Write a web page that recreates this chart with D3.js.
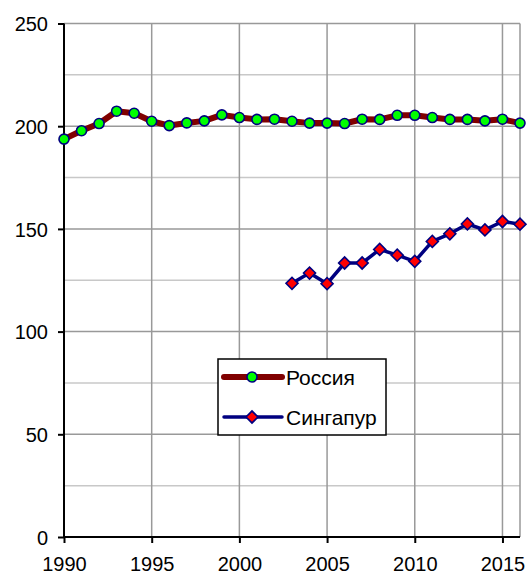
<!DOCTYPE html>
<html>
<head>
<meta charset="utf-8">
<script src="https://cdn.jsdelivr.net/npm/d3@7"></script>
<style>
  body { margin: 0; background: #fff; }
  text { font-family: Arial, "Liberation Sans", sans-serif; fill: #000; }
</style>
</head>
<body>
<script>
// Data
let russiaYears = [1990, 1991, 1992, 1993, 1994, 1995, 1996, 1997, 1998, 1999, 2000, 2001, 2002,
  2003, 2004, 2005, 2006, 2007, 2008, 2009, 2010, 2011, 2012, 2013, 2014, 2015, 2016];
let russiaValues = [193.7, 197.8, 201.3, 207.3, 206.3, 202.4, 200.3, 201.6, 202.6, 205.5, 204.2, 203.3, 203.4,
  202.4, 201.5, 201.5, 201.3, 203.4, 203.3, 205.3, 205.3, 204.2, 203.3, 203.3, 202.6, 203.4, 201.5];
let singaporeYears = [2003, 2004, 2005, 2006, 2007, 2008, 2009, 2010, 2011, 2012, 2013, 2014, 2015, 2016];
let singaporeValues = [123.5, 128.5, 123.3, 133.4, 133.4, 140.0, 137.2, 134.2, 143.9, 147.6, 152.4, 149.5, 153.6, 152.3];
let xTicks = [1990, 1995, 2000, 2005, 2010, 2015];
let yTicks = [0, 50, 100, 150, 200, 250];
let yMinor = [25, 75, 125, 175, 225];
let seriesNames = ["Россия", "Сингапур"];

let width = 528;
let height = 574;

let svg = d3.select("body").append("svg")
  .attr("width", width)
  .attr("height", height);

let x = d3.scaleLinear().domain([1990, 2016]).range([64, 520]);
let y = d3.scaleLinear().domain([0, 250]).range([537, 23.5]);

// minor horizontal grid
svg.append("g").selectAll("line")
  .data(yMinor)
  .enter().append("line")
  .attr("x1", x(1990)).attr("x2", x(2016))
  .attr("y1", d => y(d)).attr("y2", d => y(d))
  .attr("stroke", "#c8c8c8").attr("stroke-width", 1.5);

// major grid
svg.append("g").selectAll("line")
  .data(yTicks.filter(d => d > 0))
  .enter().append("line")
  .attr("x1", x(1990)).attr("x2", x(2016))
  .attr("y1", d => y(d)).attr("y2", d => y(d))
  .attr("stroke", "#999").attr("stroke-width", 1.5);

svg.append("g").selectAll("line")
  .data(xTicks.filter(d => d > 1990).concat([2016]))
  .enter().append("line")
  .attr("x1", d => x(d)).attr("x2", d => x(d))
  .attr("y1", y(0)).attr("y2", y(250))
  .attr("stroke", "#999").attr("stroke-width", 1.5);

// axes
let xAxis = d3.axisBottom(x).tickValues(xTicks).tickFormat(d3.format("d")).tickSize(6).tickPadding(10);
let yAxis = d3.axisLeft(y).tickValues(yTicks).tickSize(6).tickPadding(10);

let gx = svg.append("g").attr("transform", `translate(0, ${y(0)})`).call(xAxis);
let gy = svg.append("g").attr("transform", `translate(${x(1990)}, 0)`).call(yAxis);

[gx, gy].forEach(g => {
  g.select(".domain").remove();
  g.selectAll("line").attr("stroke", "#000").attr("stroke-width", 2);
  g.selectAll("text").style("font-size", "20px").attr("fill", "#000")
    .style("font-family", "Arial, 'Liberation Sans', sans-serif");
});
gy.selectAll("text").attr("dy", "0.36em");
gx.selectAll("text").attr("dy", "0.9em");

svg.append("line")
  .attr("x1", x(1990)).attr("x2", x(2016))
  .attr("y1", y(0)).attr("y2", y(0))
  .attr("stroke", "#000").attr("stroke-width", 2);
svg.append("line")
  .attr("x1", x(1990)).attr("x2", x(1990))
  .attr("y1", y(0) + 1).attr("y2", y(250))
  .attr("stroke", "#000").attr("stroke-width", 2);

// series
let russia = russiaYears.map((yr, i) => ({ year: yr, value: russiaValues[i] }));
let singapore = singaporeYears.map((yr, i) => ({ year: yr, value: singaporeValues[i] }));

let line = d3.line().x(d => x(d.year)).y(d => y(d.value));

svg.append("path")
  .datum(russia)
  .attr("d", line)
  .attr("fill", "none")
  .attr("stroke", "#800000")
  .attr("stroke-width", 6)
  .attr("stroke-linejoin", "round");

svg.append("g").selectAll("circle")
  .data(russia)
  .enter().append("circle")
  .attr("cx", d => x(d.year))
  .attr("cy", d => y(d.value))
  .attr("r", 5)
  .attr("fill", "#00ff00")
  .attr("stroke", "#000080")
  .attr("stroke-width", 1.6);

svg.append("path")
  .datum(singapore)
  .attr("d", line)
  .attr("fill", "none")
  .attr("stroke", "#000080")
  .attr("stroke-width", 3.5)
  .attr("stroke-linejoin", "round");

let diamond = d3.symbol().type(d3.symbolSquare).size(72);

svg.append("g").selectAll("path")
  .data(singapore)
  .enter().append("path")
  .attr("d", diamond)
  .attr("transform", d => `translate(${x(d.year)}, ${y(d.value)}) rotate(45)`)
  .attr("fill", "#ff0000")
  .attr("stroke", "#000080")
  .attr("stroke-width", 1.6);

// legend
let legend = svg.append("g").attr("transform", "translate(218, 359)");
legend.append("rect")
  .attr("width", 168).attr("height", 76)
  .attr("fill", "#fff").attr("stroke", "#000").attr("stroke-width", 1.5);

let rows = [
  { name: seriesNames[0], color: "#800000", lw: 6, marker: "circle", dy: 18 },
  { name: seriesNames[1], color: "#000080", lw: 3.5, marker: "diamond", dy: 58 }
];

rows.forEach(r => {
  legend.append("line")
    .attr("x1", 6).attr("x2", 64)
    .attr("y1", r.dy).attr("y2", r.dy)
    .attr("stroke", r.color).attr("stroke-width", r.lw)
    .attr("stroke-linecap", "round");
  if (r.marker === "circle") {
    legend.append("circle")
      .attr("cx", 34).attr("cy", r.dy).attr("r", 5)
      .attr("fill", "#00ff00").attr("stroke", "#000080").attr("stroke-width", 1.6);
  } else {
    legend.append("path")
      .attr("d", diamond)
      .attr("transform", `translate(34, ${r.dy}) rotate(45)`)
      .attr("fill", "#ff0000").attr("stroke", "#000080").attr("stroke-width", 1.6);
  }
  legend.append("text")
    .attr("x", 68).attr("y", r.dy)
    .attr("dy", "0.36em")
    .style("font-size", "21px")
    .text(r.name);
});
</script>
</body>
</html>
